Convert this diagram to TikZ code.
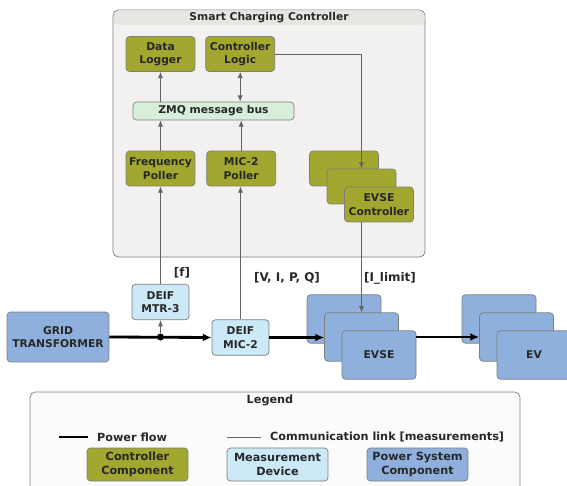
\documentclass[tikz,border=0pt]{standalone}
\usepackage{fontspec}
\setmainfont{DejaVu Sans}
\usepackage{xcolor}
\usetikzlibrary{arrows.meta, positioning}

\definecolor{ctrlgreen}{RGB}{162,167,48}
\definecolor{measblue}{RGB}{204,233,248}
\definecolor{powerblue}{RGB}{143,176,221}
\definecolor{busgreen}{RGB}{214,238,218}
\definecolor{panelgray}{RGB}{242,241,240}
\definecolor{bandgray}{RGB}{232,230,227}
\definecolor{edgegray}{RGB}{125,125,125}
\definecolor{textdark}{RGB}{40,40,40}

\tikzstyle{label} = [font=\bfseries\fontsize{6.1}{7.6}\selectfont, text=textdark, align=center, inner sep=1pt]
\tikzstyle{linklabel} = [label, font=\bfseries\fontsize{6.8}{8}\selectfont]
\tikzstyle{leglabel} = [label, font=\bfseries\fontsize{6.4}{8}\selectfont]
\tikzstyle{ctrl} = [label, rectangle, draw=edgegray, fill=ctrlgreen, rounded corners=2pt, minimum width=1.38cm, minimum height=0.70cm]
\tikzstyle{meas} = [label, rectangle, draw=edgegray, fill=measblue, rounded corners=2pt, minimum width=1.14cm, minimum height=0.71cm]
\tikzstyle{power} = [label, rectangle, draw=edgegray, fill=powerblue, rounded corners=2pt, minimum width=1.48cm, minimum height=0.97cm]
\tikzstyle{bus} = [label, rectangle, draw=edgegray, fill=busgreen, rounded corners=2pt, minimum width=3.22cm, minimum height=0.36cm]
\tikzstyle{panel} = [rectangle, draw=edgegray, fill=panelgray, rounded corners=3pt]
\tikzstyle{junction} = [circle, fill=black, inner sep=0pt, minimum size=0.14cm]
\tikzstyle{flow} = [-{Latex[length=5pt, width=4.5pt]}, line width=1.6pt, draw=black]
\tikzstyle{comm} = [-{Latex[length=3.6pt, width=3pt]}, draw=edgegray!80!black, line width=0.5pt]

\begin{document}
\begin{tikzpicture}[x=0.02cm, y=-0.02cm]
\useasboundingbox (0,0) rectangle (567,486);

% Smart charging controller panel
\node[panel, minimum width=6.24cm, minimum height=4.94cm] (scc) at (269,133.5) {};
\fill[bandgray, rounded corners=3pt] (113.5,10.5) rectangle (424.5,25);
\node[label] (scctitle) at (269,17.5) {Smart Charging Controller};

% Legend panel
\node[panel, fill=white!97!gray, minimum width=9.8cm, minimum height=2.2cm] (legend) at (275,447) {};
\node[leglabel] (legendtitle) at (270,400) {Legend};

% Controller components
\node[ctrl] (datalog) at (160.5,54) {Data\\Logger};
\node[ctrl, right=0.2cm of datalog] (ctrllogic) {Controller\\Logic};
\node[bus] (zmq) at (213.5,111) {ZMQ message bus};
\node[ctrl] (freqpoll) at (160.5,168.5) {Frequency\\Poller};
\node[ctrl, right=0.22cm of freqpoll] (micpoll) {MIC-2\\Poller};

% EVSE controller stack
\node[ctrl] (evsectrla) at (344,168.5) {};
\node[ctrl] (evsectrlb) at ([shift={(17.5,18)}]evsectrla.center) {};
\node[ctrl] (evsectrlc) at ([shift={(17.5,18)}]evsectrlb.center) {EVSE\\Controller};

% Power system and measurement devices
\node[power, minimum width=2.04cm, minimum height=1.0cm] (grid) at (58,337) {GRID\\TRANSFORMER};
\node[meas] (mtr) at (160.5,302) {DEIF\\MTR-3};
\node[meas] (mic) at (240.5,337.5) {DEIF\\MIC-2};

% EVSE stack
\node[power] (evsea) at (344,319) {};
\node[power] (evseb) at ([shift={(17.5,18)}]evsea.center) {};
\node[power] (evsec) at ([shift={(17.5,18)}]evseb.center) {EVSE};

% EV stack
\node[power] (eva) at (499,319) {};
\node[power] (evb) at ([shift={(17.5,18)}]eva.center) {};
\node[power] (evc) at ([shift={(17.5,18)}]evb.center) {EV};

% Power flow
\draw[flow] (grid.east) -- (mic.west);
\node[junction] (junc) at (mtr.south |- grid.east) {};
\draw[flow] (mic.east) -- (evseb.west |- mic.east);
\draw[flow] (evsec.east |- evseb.west) -- (evb.west);

% Communication links
\draw[comm] (junc) -- (mtr.south);
\draw[comm] (mtr.north) -- (freqpoll.south);
\draw[comm] (mic.north) -- (mic.north |- micpoll.south);
\draw[comm] (freqpoll.north) -- (freqpoll.north |- zmq.south);
\draw[comm] (micpoll.north) -- (micpoll.north |- zmq.south);
\draw[comm] (datalog.south |- zmq.north) -- (datalog.south);
\draw[comm, {Latex[length=3.6pt, width=3pt]}-{Latex[length=3.6pt, width=3pt]}] (ctrllogic.south) -- (ctrllogic.south |- zmq.north);
\draw[comm] (ctrllogic.east) -| (evsectrlb.north);
\draw[comm] (evsectrlb |- evsectrlc.south) -- (evseb.north);

% Link labels
\node[linklabel] (flabel) at (182,273) {[f]};
\node[linklabel] (vipqlabel) at (287,278) {[V, I, P, Q]};
\node[linklabel] (ilimlabel) at (390,278) {[I\_limit]};

% Legend entries
\coordinate (pfa) at (59,437);
\coordinate (pfb) at (88,437);
\draw[line width=1.6pt] (pfa) -- (pfb);
\node[leglabel, anchor=west] (pflabel) at (95,437) {Power flow};
\coordinate (cla) at (227,437);
\coordinate (clb) at (261,437);
\draw[draw=edgegray!80!black, line width=0.5pt] (cla) -- (clb);
\node[leglabel, anchor=west] (cllabel) at (268,437) {Communication link [measurements]};
\node[ctrl, leglabel, minimum width=2.02cm, minimum height=0.66cm] (legctrl) at (137.5,464.5) {Controller\\Component};
\node[meas, leglabel, minimum width=2.02cm, minimum height=0.66cm] (legmeas) at (277.5,464.5) {Measurement\\Device};
\node[power, leglabel, minimum width=2.02cm, minimum height=0.66cm] (legpower) at (417.5,464.5) {Power System\\Component};

\end{tikzpicture}
\end{document}
